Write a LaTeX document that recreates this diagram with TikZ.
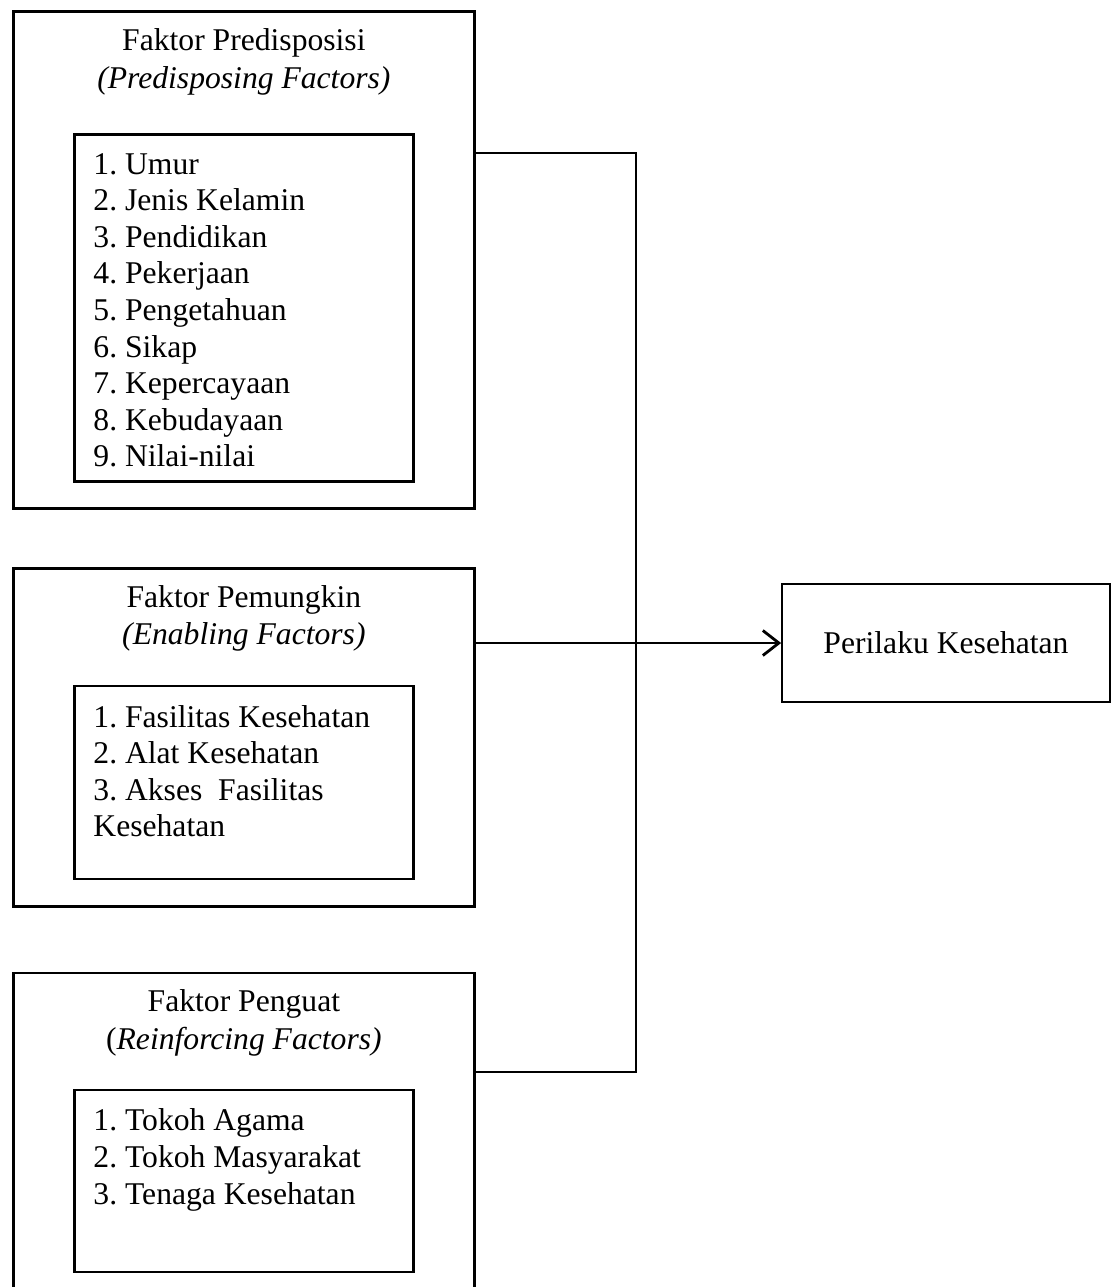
\documentclass[tikz,border=0pt]{standalone}
\usepackage{fontspec}
\setmainfont{Liberation Serif}
\usetikzlibrary{positioning,arrows.meta}
\frenchspacing

\begin{document}
\begin{tikzpicture}[>={Straight Barb[length=0.32cm,width=0.5cm]},
    every node/.style={font=\fontsize{18pt}{20.8pt}\selectfont},
    outer/.style={draw, line width=1.6pt, minimum width=9.22cm, inner sep=0pt, anchor=north west},
    inbox/.style={draw, line width=1.5pt, minimum width=6.78cm, inner sep=0pt, anchor=north},
    title/.style={align=center, inner sep=0pt, anchor=north, yshift=-0.36cm, font=\fontsize{18pt}{21.5pt}\selectfont},
    items/.style={align=left, inner sep=0pt, anchor=north west, xshift=0.4cm, yshift=-0.4cm}]
    \useasboundingbox (0,0) rectangle (22.22,-25.74);

    % Outer boxes
    \node (pre) [outer, minimum height=9.94cm] at (0.24,-0.2) {};
    \node (emb) [outer, minimum height=6.76cm, below=1.14cm of pre] {};
    \node (rein) [outer, minimum height=7cm, below=1.28cm of emb] {};

    % Titles
    \node (preT) [title] at (pre.north) {Faktor Predisposisi\\\textit{(Predisposing Factors)}};
    \node (embT) [title] at (emb.north) {Faktor Pemungkin\\\textit{(Enabling Factors)}};
    \node (reinT) [title] at (rein.north) {Faktor Penguat\\(\textit{Reinforcing Factors)}};

    % Inner boxes with lists
    \node (preL) [inbox, minimum height=6.94cm, yshift=-2.46cm] at (pre.north) {};
    \node (embL) [inbox, minimum height=3.86cm, yshift=-2.36cm] at (emb.north) {};
    \node (reinL) [inbox, minimum height=3.64cm, yshift=-2.34cm] at (rein.north) {};

    \node (preI) [items] at (preL.north west) {1. Umur\\2. Jenis Kelamin\\3. Pendidikan\\4. Pekerjaan\\5. Pengetahuan\\6. Sikap\\7. Kepercayaan\\8. Kebudayaan\\9. Nilai-nilai};
    \node (embI) [items] at (embL.north west) {1. Fasilitas Kesehatan\\2. Alat Kesehatan\\3. Akses\ \ Fasilitas\\Kesehatan};
    \node (reinI) [items] at (reinL.north west) {1. Tokoh Agama\\2. Tokoh Masyarakat\\3. Tenaga Kesehatan};

    % Outcome
    \node (beh) [draw, line width=1pt, minimum width=6.56cm, minimum height=2.36cm] at (18.92,-12.86) {Perilaku Kesehatan};

    % Connecting lines
    \coordinate (up) at (12.72,-3.06);
    \coordinate (down) at (12.72,-21.44);
    \draw[line width=1pt] (up -| pre.east) -- (up) -- (down) -- (down -| rein.east);
    \draw[->, line width=1.6pt] (beh.west -| emb.east) -- (beh.west);

\end{tikzpicture}
\end{document}
